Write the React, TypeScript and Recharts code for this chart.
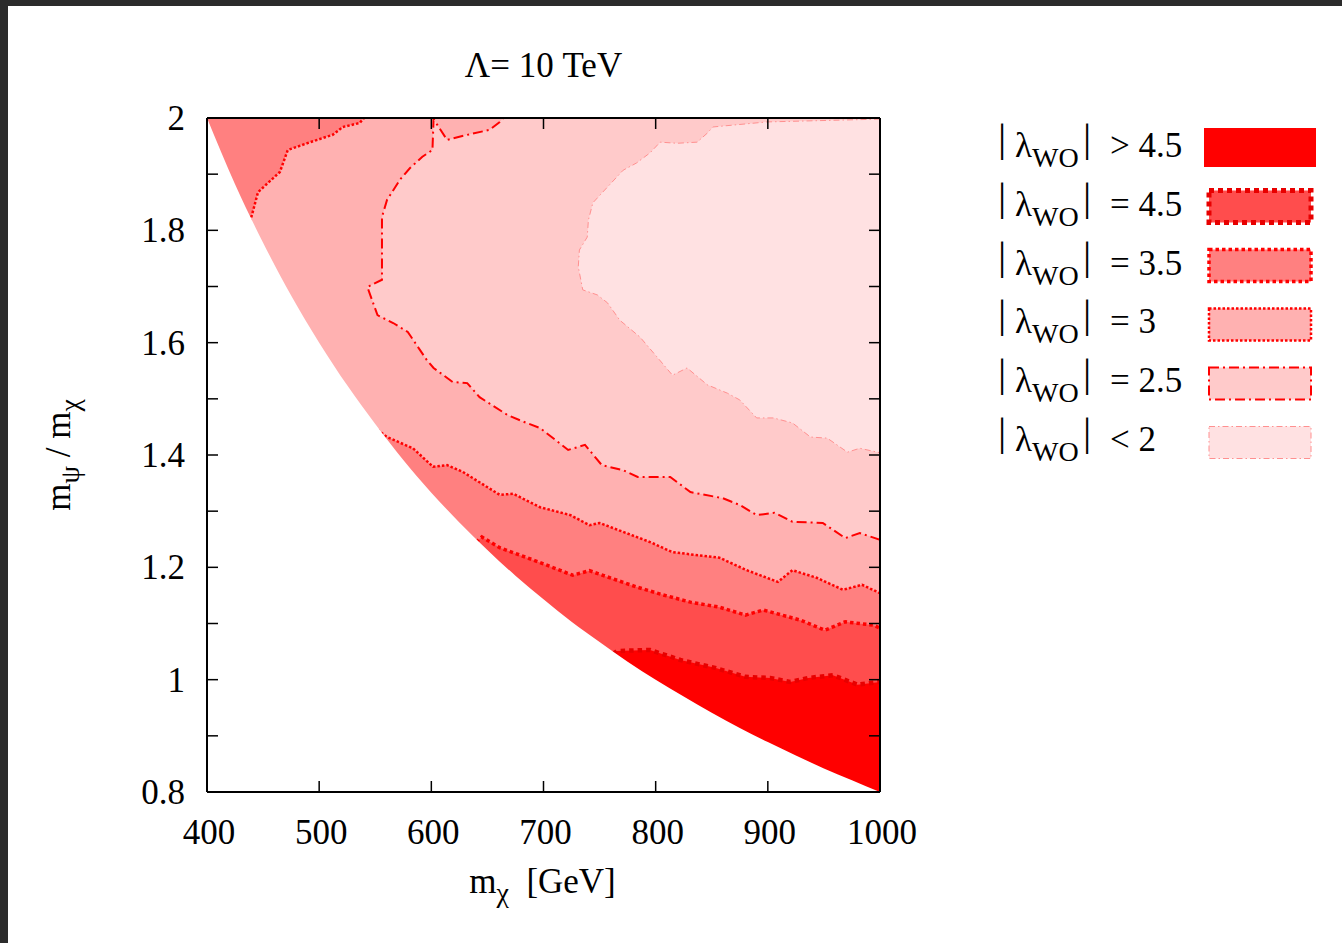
import React from "react";
import { Area, ComposedChart, Legend, Line, XAxis, YAxis } from "recharts";

type Pt = { m: number; r: number };

const FONT = '"Liberation Serif", "Times New Roman", serif';

// axis ticks
const xTicks = [400, 500, 600, 700, 800, 900, 1000];
const yTicks = [0.8, 0.9, 1.0, 1.1, 1.2, 1.3, 1.4, 1.5, 1.6, 1.7, 1.8, 1.9, 2.0];
const yLabelled = [0.8, 1.0, 1.2, 1.4, 1.6, 1.8, 2.0];

// edge of the allowed region (white below it)
const boundary: Pt[] = [
  { m: 400, r: 2.0 }, { m: 425, r: 1.882 }, { m: 450, r: 1.778 }, { m: 475, r: 1.684 },
  { m: 500, r: 1.6 }, { m: 525, r: 1.524 }, { m: 550, r: 1.455 }, { m: 575, r: 1.391 },
  { m: 600, r: 1.333 }, { m: 625, r: 1.28 }, { m: 650, r: 1.231 }, { m: 675, r: 1.185 },
  { m: 700, r: 1.143 }, { m: 725, r: 1.103 }, { m: 750, r: 1.067 }, { m: 775, r: 1.032 },
  { m: 800, r: 1.0 }, { m: 825, r: 0.97 }, { m: 850, r: 0.941 }, { m: 875, r: 0.914 },
  { m: 900, r: 0.889 }, { m: 925, r: 0.865 }, { m: 950, r: 0.842 }, { m: 975, r: 0.821 },
  { m: 1000, r: 0.8 },
];

// |lambda| = 2 contour (edge of the lightest region)
const contour2: Pt[] = [
  { m: 1000, r: 1.998 }, { m: 899, r: 1.993 }, { m: 851, r: 1.984 }, { m: 846, r: 1.973 },
  { m: 837, r: 1.957 }, { m: 819, r: 1.955 }, { m: 804, r: 1.957 }, { m: 795, r: 1.938 },
  { m: 783, r: 1.92 }, { m: 771, r: 1.907 }, { m: 757, r: 1.877 }, { m: 744, r: 1.849 },
  { m: 740, r: 1.818 }, { m: 739, r: 1.788 }, { m: 732, r: 1.765 }, { m: 731, r: 1.735 },
  { m: 735, r: 1.694 }, { m: 748, r: 1.685 }, { m: 757, r: 1.671 }, { m: 768, r: 1.64 },
  { m: 786, r: 1.61 }, { m: 801, r: 1.575 }, { m: 815, r: 1.542 }, { m: 828, r: 1.555 },
  { m: 846, r: 1.525 }, { m: 864, r: 1.51 }, { m: 875, r: 1.498 }, { m: 890, r: 1.466 },
  { m: 905, r: 1.466 }, { m: 922, r: 1.457 }, { m: 938, r: 1.432 }, { m: 953, r: 1.43 },
  { m: 971, r: 1.405 }, { m: 982, r: 1.412 }, { m: 1000, r: 1.404 },
];

// |lambda| = 2.5 contour
const contour25: Pt[] = [
  { m: 1000, r: 1.249 }, { m: 982, r: 1.261 }, { m: 969, r: 1.252 }, { m: 949, r: 1.279 },
  { m: 922, r: 1.281 }, { m: 906, r: 1.297 }, { m: 890, r: 1.293 }, { m: 875, r: 1.311 },
  { m: 860, r: 1.323 }, { m: 831, r: 1.334 }, { m: 813, r: 1.361 }, { m: 784, r: 1.361 },
  { m: 771, r: 1.373 }, { m: 752, r: 1.382 }, { m: 737, r: 1.418 }, { m: 722, r: 1.409 },
  { m: 697, r: 1.448 }, { m: 685, r: 1.457 }, { m: 668, r: 1.471 }, { m: 643, r: 1.503 },
  { m: 632, r: 1.528 }, { m: 619, r: 1.53 }, { m: 602, r: 1.555 }, { m: 596, r: 1.569 },
  { m: 579, r: 1.619 }, { m: 566, r: 1.635 }, { m: 552, r: 1.649 }, { m: 543, r: 1.699 },
  { m: 556, r: 1.712 }, { m: 556, r: 1.824 }, { m: 560.5, r: 1.854 }, { m: 572, r: 1.89 },
  { m: 581, r: 1.911 }, { m: 592, r: 1.931 }, { m: 601, r: 1.943 }, { m: 602, r: 1.998 },
  { m: 614, r: 1.961 }, { m: 632, r: 1.97 }, { m: 652, r: 1.979 }, { m: 661, r: 1.993 },
  { m: 664, r: 2.0 },
];

// |lambda| = 3 contour, top-left corner piece
const contour3Upper: Pt[] = [
  { m: 436, r: 1.8 }, { m: 440, r: 1.827 }, { m: 445.5, r: 1.868 }, { m: 465, r: 1.904 },
  { m: 472, r: 1.943 }, { m: 492, r: 1.957 }, { m: 512, r: 1.97 }, { m: 521, r: 1.984 },
  { m: 536, r: 1.991 }, { m: 540, r: 2.0 },
];

// |lambda| = 3 contour, lower piece
const contour3: Pt[] = [
  { m: 552, r: 1.445 }, { m: 560.5, r: 1.432 }, { m: 583.6, r: 1.412 }, { m: 601.5, r: 1.379 },
  { m: 614, r: 1.382 }, { m: 628, r: 1.37 }, { m: 661, r: 1.329 }, { m: 673, r: 1.331 },
  { m: 697, r: 1.307 }, { m: 724, r: 1.293 }, { m: 741, r: 1.275 }, { m: 750, r: 1.279 },
  { m: 795, r: 1.245 }, { m: 815, r: 1.227 }, { m: 857, r: 1.217 }, { m: 881, r: 1.195 },
  { m: 909, r: 1.174 }, { m: 922, r: 1.195 }, { m: 944, r: 1.181 }, { m: 967, r: 1.16 },
  { m: 984, r: 1.169 }, { m: 1000, r: 1.154 },
];

// |lambda| = 3.5 contour
const contour35: Pt[] = [
  { m: 640, r: 1.245 }, { m: 645, r: 1.254 }, { m: 661, r: 1.235 }, { m: 691, r: 1.213 },
  { m: 726, r: 1.186 }, { m: 741, r: 1.194 }, { m: 783, r: 1.165 }, { m: 806.5, r: 1.151 },
  { m: 831, r: 1.138 }, { m: 857, r: 1.129 }, { m: 880, r: 1.115 }, { m: 896, r: 1.124 },
  { m: 929, r: 1.106 }, { m: 951, r: 1.088 }, { m: 969, r: 1.103 }, { m: 994, r: 1.097 },
  { m: 1000, r: 1.092 },
];

// |lambda| = 4.5 contour
const contour45: Pt[] = [
  { m: 762, r: 1.046 }, { m: 765.5, r: 1.051 }, { m: 795, r: 1.053 }, { m: 822, r: 1.035 },
  { m: 853, r: 1.021 }, { m: 880, r: 1.005 }, { m: 902, r: 1.003 }, { m: 920, r: 0.996 },
  { m: 936, r: 1.003 }, { m: 958, r: 1.008 }, { m: 980, r: 0.991 }, { m: 1000, r: 0.996 },
];

const plotTop: Pt[] = [{ m: 400, r: 2 }, { m: 1000, r: 2 }];
const topLeft: Pt = { m: 400, r: 2 };

const legendLabels = ["> 4.5", "= 4.5", "= 3.5", "= 3", "= 2.5", "< 2"];

const C45 = "#ff0000";
const C35 = "#ff4d4d";
const C3 = "#ff8080";
const C25 = "#ffb1b1";
const C2 = "#ffcaca";
const C0 = "#ffe1e2";

const swatches = [
  { fill: C45, stroke: "none", sw: 0, dash: undefined as string | undefined },
  { fill: C35, stroke: "#e80000", sw: 5, dash: "5 4" },
  { fill: C3, stroke: "#ff0000", sw: 3.5, dash: "3.5 3" },
  { fill: C25, stroke: "#ff0000", sw: 2.5, dash: "2.5 2" },
  { fill: C2, stroke: "#ff0000", sw: 2, dash: "10 4 2 4" },
  { fill: C0, stroke: "#ff9090", sw: 1, dash: "6 3 1.5 3" },
];

const TICK = 11;

function LeftTick(props: any) {
  const { x, y, payload } = props;
  const v = payload.value;
  return (
    <g>
      <line x1={x} y1={y} x2={x + TICK} y2={y} stroke="#000" strokeWidth={1.5} />
      {yLabelled.includes(v) && (
        <text x={x - 22} y={y + 12} textAnchor="end" fontFamily={FONT} fontSize={35} fill="#000">
          {String(v)}
        </text>
      )}
    </g>
  );
}

function RightTick(props: any) {
  const { x, y } = props;
  return <line x1={x} y1={y} x2={x - TICK} y2={y} stroke="#000" strokeWidth={1.5} />;
}

function BottomTick(props: any) {
  const { x, y, payload } = props;
  return (
    <g>
      <line x1={x} y1={y} x2={x} y2={y - TICK} stroke="#000" strokeWidth={1.5} />
      <text x={x + 2} y={y + 52} textAnchor="middle" fontFamily={FONT} fontSize={35} fill="#000">
        {String(payload.value)}
      </text>
    </g>
  );
}

function TopTick(props: any) {
  const { x, y } = props;
  return <line x1={x} y1={y} x2={x} y2={y + TICK} stroke="#000" strokeWidth={1.5} />;
}

function TitleLabel(props: any) {
  const vb = props.viewBox;
  return (
    <text x={vb.x + vb.width / 2} y={vb.y - 40} textAnchor="middle" fontFamily={FONT} fontSize={35} fill="#000">
      Λ= 10 TeV
    </text>
  );
}

function XTitle(props: any) {
  const vb = props.viewBox;
  return (
    <text x={vb.x + vb.width / 2 - 1} y={vb.y + 101} textAnchor="middle" fontFamily={FONT} fontSize={35} fill="#000">
      m<tspan fontSize={28} dy={9}>χ</tspan>
      <tspan dy={-9}>{"\u00a0 [GeV]"}</tspan>
    </text>
  );
}

function YTitle(props: any) {
  const vb = props.viewBox;
  const cx = vb.x - 37;
  const cy = vb.y + vb.height / 2;
  return (
    <text
      x={cx}
      y={cy}
      transform={`rotate(-90, ${cx}, ${cy})`}
      textAnchor="middle"
      fontFamily={FONT}
      fontSize={35}
      fill="#000"
    >
      m<tspan fontSize={28} dy={9}>ψ</tspan>
      <tspan dy={-9}>{" / m"}</tspan>
      <tspan fontSize={28} dy={9}>χ</tspan>
    </text>
  );
}

function LegendBox() {
  return (
    <svg width={340} height={360} style={{ display: "block", overflow: "visible" }}>
      {legendLabels.map((lab, i) => {
        const yb = 42 + i * 58.8;
        const cy = 32.5 + i * 59;
        const s = swatches[i];
        return (
          <g key={lab} fontFamily={FONT} fill="#000">
            <text x={8} y={yb - 6} fontSize={41}>|</text>
            <text x={25} y={yb} fontSize={35}>
              λ<tspan fontSize={28} dy={10}>WO</tspan>
            </text>
            <text x={93} y={yb - 6} fontSize={41}>|</text>
            <text x={120} y={yb} fontSize={35}>{lab}</text>
            {i === 0 ? (
              <rect x={214} y={cy - 19.5} width={112} height={39} fill={s.fill} />
            ) : (
              <rect
                x={219}
                y={cy - 16}
                width={102}
                height={32}
                fill={s.fill}
                stroke={s.stroke}
                strokeWidth={s.sw}
                strokeDasharray={s.dash}
              />
            )}
          </g>
        );
      })}
    </svg>
  );
}

export default function App() {
  return (
    <div style={{ position: "absolute", left: 0, top: 0, width: 1342, height: 943, background: "#2b2b2b" }}>
      <div style={{ position: "absolute", left: 8, top: 6, width: 1334, height: 937, background: "#fff" }}>
        <ComposedChart width={1334} height={937} margin={{ top: 111, right: 461, bottom: 91, left: 99 }}>
          <XAxis
            dataKey="m"
            type="number"
            domain={[400, 1000]}
            ticks={xTicks}
            interval={0}
            allowDataOverflow
            height={60}
            tickSize={0}
            tickMargin={0}
            tick={<BottomTick />}
            tickLine={false}
            axisLine={{ stroke: "#000", strokeWidth: 2 }}
            label={<XTitle />}
          />
          <XAxis
            xAxisId="top"
            orientation="top"
            dataKey="m"
            type="number"
            domain={[400, 1000]}
            ticks={xTicks}
            interval={0}
            allowDataOverflow
            height={1}
            tickSize={0}
            tickMargin={0}
            tick={<TopTick />}
            tickLine={false}
            axisLine={{ stroke: "#000", strokeWidth: 2 }}
            label={<TitleLabel />}
          />
          <YAxis
            type="number"
            domain={[0.8, 2]}
            ticks={yTicks}
            interval={0}
            allowDataOverflow
            width={100}
            tickSize={0}
            tickMargin={0}
            tick={<LeftTick />}
            tickLine={false}
            axisLine={{ stroke: "#000", strokeWidth: 2 }}
            label={<YTitle />}
          />
          <YAxis
            yAxisId="right"
            orientation="right"
            type="number"
            domain={[0.8, 2]}
            ticks={yTicks}
            interval={0}
            allowDataOverflow
            width={1}
            tickSize={0}
            tickMargin={0}
            tick={<RightTick />}
            tickLine={false}
            axisLine={{ stroke: "#000", strokeWidth: 2 }}
          />

          {/* filled regions, painted from the top level down */}
          <Area data={plotTop} dataKey="r" type="linear" baseValue={0.8} fill={C2} fillOpacity={1} stroke="none" dot={false} activeDot={false} isAnimationActive={false} zIndex={100} />
          <Area data={contour2} dataKey="r" type="linear" baseValue={2} fill={C0} fillOpacity={1} stroke="none" dot={false} activeDot={false} isAnimationActive={false} zIndex={100} />
          <Area data={[...contour25, topLeft]} dataKey="r" type="linear" baseValue={0.8} fill={C25} fillOpacity={1} stroke="none" dot={false} activeDot={false} isAnimationActive={false} zIndex={100} />
          <Area data={[topLeft, ...contour3Upper]} dataKey="r" type="linear" baseValue={2} fill={C3} fillOpacity={1} stroke="none" dot={false} activeDot={false} isAnimationActive={false} zIndex={100} />
          <Area data={contour3} dataKey="r" type="linear" baseValue={0.8} fill={C3} fillOpacity={1} stroke="none" dot={false} activeDot={false} isAnimationActive={false} zIndex={100} />
          <Area data={contour35} dataKey="r" type="linear" baseValue={0.8} fill={C35} fillOpacity={1} stroke="none" dot={false} activeDot={false} isAnimationActive={false} zIndex={100} />
          <Area data={contour45} dataKey="r" type="linear" baseValue={0.8} fill={C45} fillOpacity={1} stroke="none" dot={false} activeDot={false} isAnimationActive={false} zIndex={100} />

          {/* contour lines */}
          <Line data={contour2} dataKey="r" type="linear" stroke="#ff9090" strokeWidth={1} strokeDasharray="6 3 1.5 3" dot={false} activeDot={false} isAnimationActive={false} zIndex={110} />
          <Line data={contour25} dataKey="r" type="linear" stroke="#ff0000" strokeWidth={2} strokeDasharray="10 4 2 4" dot={false} activeDot={false} isAnimationActive={false} zIndex={110} />
          <Line data={contour3Upper} dataKey="r" type="linear" stroke="#ff0000" strokeWidth={2.5} strokeDasharray="2.5 2" dot={false} activeDot={false} isAnimationActive={false} zIndex={110} />
          <Line data={contour3} dataKey="r" type="linear" stroke="#ff0000" strokeWidth={2.5} strokeDasharray="2.5 2" dot={false} activeDot={false} isAnimationActive={false} zIndex={110} />
          <Line data={contour35} dataKey="r" type="linear" stroke="#ff0000" strokeWidth={3.5} strokeDasharray="3.5 3" dot={false} activeDot={false} isAnimationActive={false} zIndex={110} />
          <Line data={contour45} dataKey="r" type="linear" stroke="#e80000" strokeWidth={4.5} strokeDasharray="4.5 4" dot={false} activeDot={false} isAnimationActive={false} zIndex={110} />

          {/* excluded region */}
          <Area data={boundary} dataKey="r" type="monotone" baseValue={0.8} fill="#ffffff" fillOpacity={1} stroke="none" dot={false} activeDot={false} isAnimationActive={false} zIndex={120} />

          <Legend
            layout="vertical"
            align="center"
            verticalAlign="middle"
            content={() => <LegendBox />}
            wrapperStyle={{ left: 982, top: 109, width: 340 }}
          />
        </ComposedChart>
      </div>
    </div>
  );
}
